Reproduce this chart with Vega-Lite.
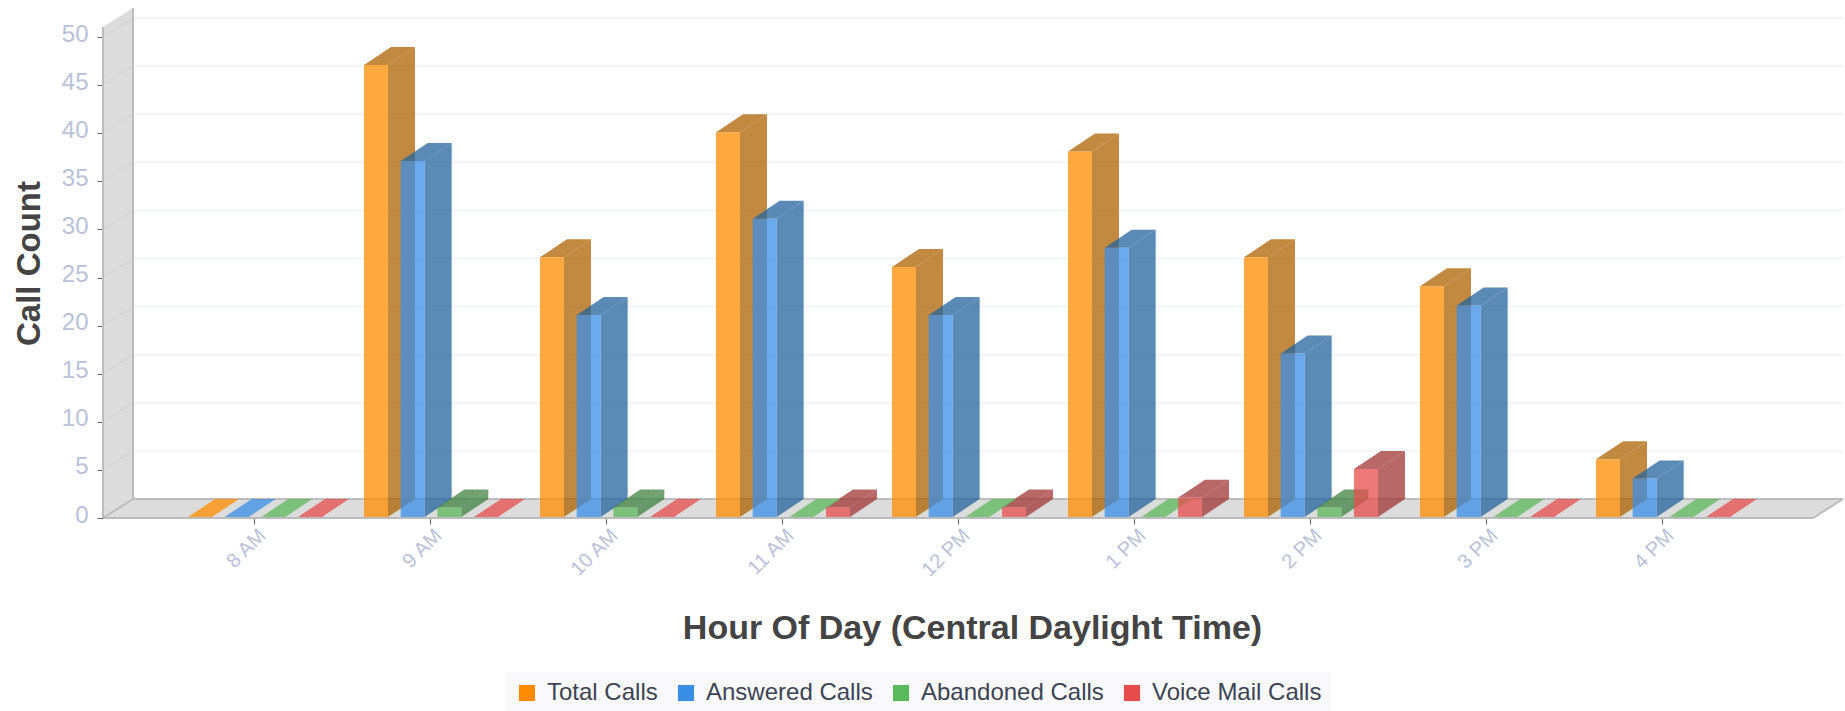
{"$schema":"https://vega.github.io/schema/vega-lite/v6.json","width":1710,"height":518,"autosize":"none","padding":{"left":103,"top":0,"right":32,"bottom":193},"background":"white","config":{"font":"Liberation Sans","view":{"stroke":null}},
"datasets":{"calls":[
{"hour":"8 AM","series":"Total Calls","count":0},{"hour":"8 AM","series":"Answered Calls","count":0},{"hour":"8 AM","series":"Abandoned Calls","count":0},{"hour":"8 AM","series":"Voice Mail Calls","count":0},
{"hour":"9 AM","series":"Total Calls","count":47},{"hour":"9 AM","series":"Answered Calls","count":37},{"hour":"9 AM","series":"Abandoned Calls","count":1},{"hour":"9 AM","series":"Voice Mail Calls","count":0},
{"hour":"10 AM","series":"Total Calls","count":27},{"hour":"10 AM","series":"Answered Calls","count":21},{"hour":"10 AM","series":"Abandoned Calls","count":1},{"hour":"10 AM","series":"Voice Mail Calls","count":0},
{"hour":"11 AM","series":"Total Calls","count":40},{"hour":"11 AM","series":"Answered Calls","count":31},{"hour":"11 AM","series":"Abandoned Calls","count":0},{"hour":"11 AM","series":"Voice Mail Calls","count":1},
{"hour":"12 PM","series":"Total Calls","count":26},{"hour":"12 PM","series":"Answered Calls","count":21},{"hour":"12 PM","series":"Abandoned Calls","count":0},{"hour":"12 PM","series":"Voice Mail Calls","count":1},
{"hour":"1 PM","series":"Total Calls","count":38},{"hour":"1 PM","series":"Answered Calls","count":28},{"hour":"1 PM","series":"Abandoned Calls","count":0},{"hour":"1 PM","series":"Voice Mail Calls","count":2},
{"hour":"2 PM","series":"Total Calls","count":27},{"hour":"2 PM","series":"Answered Calls","count":17},{"hour":"2 PM","series":"Abandoned Calls","count":1},{"hour":"2 PM","series":"Voice Mail Calls","count":5},
{"hour":"3 PM","series":"Total Calls","count":24},{"hour":"3 PM","series":"Answered Calls","count":22},{"hour":"3 PM","series":"Abandoned Calls","count":0},{"hour":"3 PM","series":"Voice Mail Calls","count":0},
{"hour":"4 PM","series":"Total Calls","count":6},{"hour":"4 PM","series":"Answered Calls","count":4},{"hour":"4 PM","series":"Abandoned Calls","count":0},{"hour":"4 PM","series":"Voice Mail Calls","count":0}
],"ticks":[{"tick":0},{"tick":5},{"tick":10},{"tick":15},{"tick":20},{"tick":25},{"tick":30},{"tick":35},{"tick":40},{"tick":45},{"tick":50}]},
"data":{"name":"calls"},
"transform":[{"calculate":"indexof(['8 AM','9 AM','10 AM','11 AM','12 PM','1 PM','2 PM','3 PM','4 PM'],datum.hour)+indexof(['Total Calls','Answered Calls','Abandoned Calls','Voice Mail Calls'],datum.series)*0.2083-0.375","as":"xf"},{"calculate":"datum.xf+0.1364","as":"xr"}],
"layer":[
{"data":{"values":[{"k":"wall"}]},"transform":[],"mark":{"type":"point","shape":"M0 0L30 -19L30 -510L0 -491Z","size":4,"filled":true,"fill":"#dcdcdc","opacity":1},"encoding":{"x":{"datum":-0.858,"type":"quantitative","scale":{"domain":[-0.858,8.858],"nice":false,"zero":false}},"y":{"datum":0,"type":"quantitative","scale":{"domain":[0,53.85],"nice":false}}}},
{"data":{"values":[{"k":"floor"}]},"transform":[],"mark":{"type":"point","shape":"M0 0L30 -19L1740 -19L1710 0Z","size":4,"filled":true,"fill":"#dcdcdc","opacity":1},"encoding":{"x":{"datum":-0.858,"type":"quantitative"},"y":{"datum":0,"type":"quantitative"}}},
{"data":{"name":"ticks"},"transform":[{"filter":"datum.tick>0"}],"mark":{"type":"point","shape":"M30 -19L1740 -19","size":4,"filled":false,"stroke":"#f0f2f8","strokeWidth":1.5,"opacity":1},"encoding":{"x":{"datum":-0.858,"type":"quantitative"},"y":{"field":"tick","type":"quantitative"}}},
{"data":{"name":"ticks"},"transform":[{"filter":"datum.tick>0"}],"mark":{"type":"point","shape":"M0 0L30 -19","size":4,"filled":false,"stroke":"#d2d2d2","strokeWidth":1,"opacity":1},"encoding":{"x":{"datum":-0.858,"type":"quantitative"},"y":{"field":"tick","type":"quantitative"}}},
{"data":{"values":[{"k":"edges"}]},"transform":[],"mark":{"type":"point","shape":"M0 0L0 -491M30 -19L30 -510M0 0L30 -19M30 -19L1740 -19M0 0L1710 0L1740 -19","size":4,"filled":false,"stroke":"#bcbcbc","strokeWidth":2,"opacity":1},"encoding":{"x":{"datum":-0.858,"type":"quantitative"},"y":{"datum":0,"type":"quantitative"}}},
{"transform":[{"calculate":"[0,1]","as":"d"},{"flatten":["d"]},{"calculate":"datum.xr+datum.d*0.1534","as":"xs"},{"calculate":"datum.count+0.104+datum.d*1.871","as":"ys"},{"calculate":"0.104+datum.d*1.871","as":"ys2"},{"filter":"datum.count>0"}],
"mark":{"type":"area","opacity":0.75},"encoding":{"x":{"field":"xs","type":"quantitative"},"y":{"field":"ys","type":"quantitative","stack":null},"y2":{"field":"ys2"},"detail":{"field":"hour"},"color":{"field":"series","type":"nominal","legend":null,"scale":{"domain":["Total Calls","Answered Calls","Abandoned Calls","Voice Mail Calls"],"range":["#ad6300","#24639d","#408140","#a23535"]}}}},
{"transform":[{"filter":"datum.count>0"}],"mark":{"type":"point","shape":"M0 -1L27 -19L51 -19L24 -1Z","size":4,"filled":true,"opacity":0.75},"encoding":{"x":{"field":"xf","type":"quantitative"},"y":{"field":"count","type":"quantitative"},"color":{"field":"series","type":"nominal","legend":null,"scale":{"domain":["Total Calls","Answered Calls","Abandoned Calls","Voice Mail Calls"],"range":["#ad6300","#24639d","#408140","#a23535"]}}}},
{"transform":[{"filter":"datum.count==0"}],"mark":{"type":"point","shape":"M0 -1L27 -19L51 -19L24 -1Z","size":4,"filled":true,"opacity":0.75},"encoding":{"x":{"field":"xf","type":"quantitative"},"y":{"field":"count","type":"quantitative"},"color":{"field":"series","type":"nominal","legend":null,"scale":{"domain":["Total Calls","Answered Calls","Abandoned Calls","Voice Mail Calls"],"range":["#ff8c00","#3a8ee6","#5cb85c","#e74c4c"]}}}},
{"mark":{"type":"bar","opacity":0.75,"yOffset":-1,"y2Offset":-1},"encoding":{
"x":{"field":"xf","type":"quantitative","axis":{"values":[0,1,2,3,4,5,6,7,8],"labelExpr":"['8 AM','9 AM','10 AM','11 AM','12 PM','1 PM','2 PM','3 PM','4 PM'][datum.value]","labelAngle":-45,"labelAlign":"right","labelBaseline":"middle","labelFontSize":20,"labelColor":"#b9c2d8","labelPadding":8,"labelOffset":8,"labelOverlap":false,"grid":false,"domain":false,"ticks":true,"tickColor":"#666666","tickSize":6,"title":"Hour Of Day (Central Daylight Time)","titleFontSize":34,"titleFontWeight":"bold","titleColor":"#444444","titleX":869,"titleY":93,"titleAlign":"center"}},
"x2":{"field":"xr"},
"y":{"field":"count","type":"quantitative","stack":null,"axis":{"values":[0,5,10,15,20,25,30,35,40,45,50],"labelFontSize":24,"labelColor":"#b9c2d8","labelPadding":9,"labelOffset":-3,"grid":false,"domain":false,"tickColor":"#666666","tickSize":6,"title":"Call Count","titleFontSize":33,"titleFontWeight":"bold","titleColor":"#444444","titleX":-57,"titleY":263,"titleAlign":"center","titleAngle":-90}},
"y2":{"datum":0},
"color":{"field":"series","type":"nominal","scale":{"domain":["Total Calls","Answered Calls","Abandoned Calls","Voice Mail Calls"],"range":["#ff8c00","#3a8ee6","#5cb85c","#e74c4c"]},"legend":{"title":null,"orient":"none","legendX":403,"legendY":672,"direction":"horizontal","columns":4,"symbolType":"square","symbolOpacity":1,"symbolSize":260,"symbolStrokeWidth":0,"labelFontSize":24,"labelOffset":8,"labelColor":"#3c4454","labelLimit":400,"fillColor":"#f9f9fb","padding":9,"columnPadding":16}}}}
],
"resolve":{"scale":{"color":"independent"}}}
